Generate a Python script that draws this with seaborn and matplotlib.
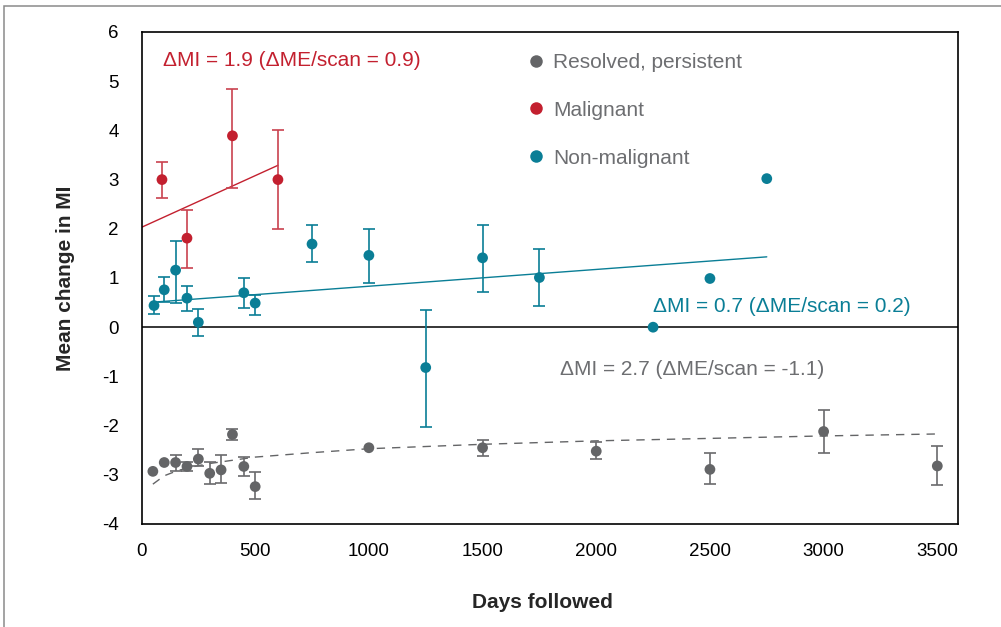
import matplotlib
matplotlib.use("Agg")
import matplotlib.pyplot as plt
import seaborn as sns
import numpy as np
import pandas as pd
from matplotlib.lines import Line2D
from matplotlib.patches import Rectangle

# Dados
gray_x = [50, 100, 150, 200, 250, 300, 350, 400, 450, 500, 1000, 1500, 2000, 2500, 3000, 3500]
gray_y = [-2.93, -2.75, -2.75, -2.83, -2.68, -2.97, -2.90, -2.18, -2.83, -3.24, -2.45, -2.45, -2.52, -2.89, -2.12, -2.82]
gray_lo = [np.nan, np.nan, -2.93, -2.93, -2.82, -3.18, -3.16, -2.29, -3.03, -3.50, np.nan, -2.62, -2.68, -3.18, -2.56, -3.20]
gray_hi = [np.nan, np.nan, -2.60, -2.74, -2.48, -2.73, -2.60, -2.07, -2.64, -2.94, np.nan, -2.29, -2.33, -2.56, -1.68, -2.41]

red_x = [90, 200, 400, 600]
red_y = [3.00, 1.81, 3.89, 3.00]
red_lo = [2.62, 1.20, 2.82, 2.00]
red_hi = [3.36, 2.38, 4.84, 4.01]

teal_x = [55, 100, 150, 200, 250, 450, 500, 750, 1000, 1250, 1500, 1750, 2250, 2500, 2750]
teal_y = [0.44, 0.76, 1.16, 0.59, 0.10, 0.70, 0.49, 1.69, 1.46, -0.82, 1.41, 1.01, 0.00, 0.99, 3.02]
teal_lo = [0.27, 0.51, 0.49, 0.32, -0.17, 0.39, 0.25, 1.33, 0.90, -2.02, 0.72, 0.44, np.nan, np.nan, np.nan]
teal_hi = [0.63, 1.03, 1.76, 0.83, 0.36, 1.01, 0.66, 2.07, 2.00, 0.35, 2.08, 1.59, np.nan, np.nan, np.nan]

# linhas de tendencia
red_fit_x = [0, 600]
red_fit_y = [2.03, 3.29]
teal_fit_x = [55, 2750]
teal_fit_y = [0.51, 1.43]
gray_fit_x = [50, 100, 150, 200, 300, 500, 750, 1000, 1500, 2000, 2500, 3000, 3500]
gray_fit_y = [-3.19, -3.02, -2.93, -2.86, -2.77, -2.64, -2.55, -2.47, -2.38, -2.31, -2.26, -2.21, -2.17]

labels = ['Resolved, persistent', 'Malignant', 'Non-malignant']
notes = ['\u0394MI = 2.7 (\u0394ME/scan = -1.1)', '\u0394MI = 1.9 (\u0394ME/scan = 0.9)', '\u0394MI = 0.7 (\u0394ME/scan = 0.2)']

GRAY = '#646567'
RED = '#c3202f'
TEAL = '#0a7e96'
TXTGRAY = '#6d6e71'

sns.set_style('white')
plt.rcParams['font.family'] = ['Liberation Sans', 'DejaVu Sans']
plt.rcParams['axes.unicode_minus'] = False

fig = plt.figure(figsize=(10.01, 6.27), dpi=100)
ax = fig.add_axes([141.5 / 1001, 103 / 627, 816.5 / 1001, 492 / 627])

# moldura da figura
fig.add_artist(Rectangle((4 / 1001, -0.1), 1.2, 1.1 - 6 / 627, transform=fig.transFigure,
                         fill=False, edgecolor='#8a8a8a', linewidth=1.1))

ax.axhline(0, color='black', lw=1.1, zorder=1)


def grupo(xs, ys, lo, hi, cor, ecor, fx, fy, ls):
    df = pd.DataFrame({'x': xs, 'y': ys, 'lo': lo, 'hi': hi})
    sns.lineplot(x=fx, y=fy, color=cor, lw=1.0, ls=ls, ax=ax, zorder=2)
    e = df.dropna()
    ax.errorbar(e['x'], e['y'], yerr=[e['y'] - e['lo'], e['hi'] - e['y']], fmt='none',
                ecolor=ecor, elinewidth=1.2, capsize=4, capthick=1.2, zorder=2)
    sns.scatterplot(data=df, x='x', y='y', color=cor, s=60, edgecolor='none', ax=ax, zorder=3)


grupo(gray_x, gray_y, gray_lo, gray_hi, GRAY, '#6a6a6c', gray_fit_x, gray_fit_y, (0, (6, 5)))
grupo(red_x, red_y, red_lo, red_hi, RED, '#c9424f', red_fit_x, red_fit_y, '-')
grupo(teal_x, teal_y, teal_lo, teal_hi, TEAL, TEAL, teal_fit_x, teal_fit_y, '-')

ax.set_xlim(0, 3591)
ax.set_ylim(-4, 6)
ax.set_xticks(range(0, 3501, 500))
ax.set_yticks(range(-4, 7))
ax.tick_params(axis='y', direction='in', length=8, width=0.9, pad=16.5, labelsize=13.5, colors='black')
ax.tick_params(axis='x', direction='in', length=8, width=0.9, pad=14, labelsize=13.5, colors='black')
for s in ax.spines.values():
    s.set_color('black')
    s.set_linewidth(1.2)

ax.set_xlabel('Days followed', fontsize=15, fontweight='bold')
ax.set_ylabel('Mean change in MI', fontsize=15, fontweight='bold')
ax.xaxis.set_label_coords(0.491, -0.140)
ax.yaxis.set_label_coords(-0.082, 0.5)

# anotacoes
ax.text(95, 5.43, notes[1], color=RED, fontsize=15, ha='left', va='center')
ax.text(2250, 0.42, notes[2], color=TEAL, fontsize=15, ha='left', va='center')
ax.text(1841, -0.86, notes[0], color=TXTGRAY, fontsize=15, ha='left', va='center')

handles = [Line2D([], [], ls='none', marker='o', markersize=9, markerfacecolor=c, markeredgecolor='none')
           for c in [GRAY, RED, TEAL]]
leg = ax.legend(handles, labels, loc='upper left', bbox_to_anchor=(527.7 / 1001, 1 - 53 / 627),
                bbox_transform=fig.transFigure, frameon=False, fontsize=15, handlelength=0.8,
                handletextpad=0.42, labelspacing=1.38, borderpad=0, borderaxespad=0)
for t in leg.get_texts():
    t.set_color(TXTGRAY)

fig.savefig('out.png', dpi=100)
